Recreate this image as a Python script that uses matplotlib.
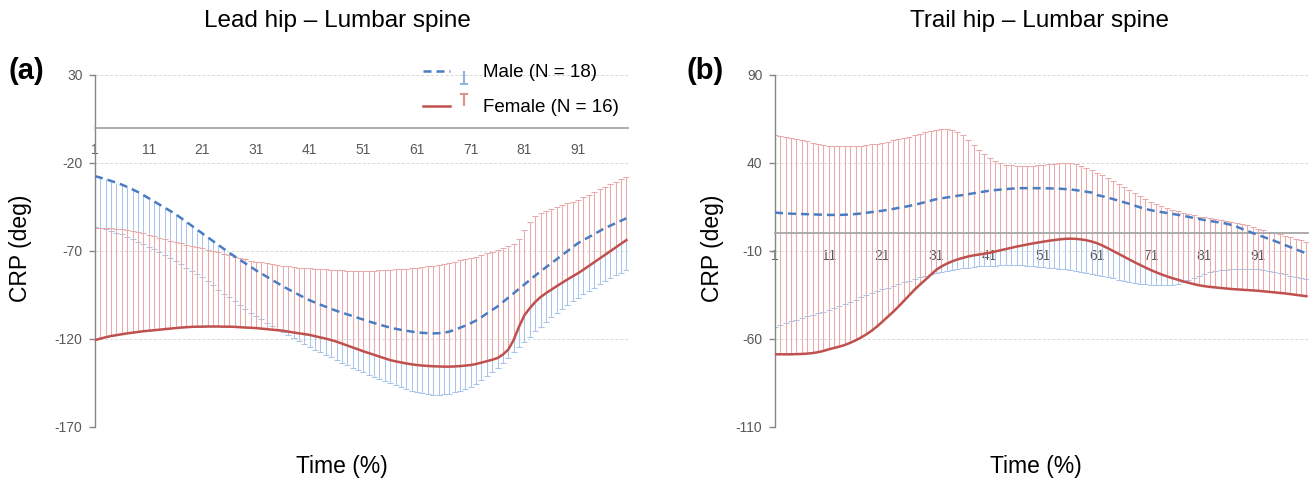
import numpy as np
import matplotlib
matplotlib.use('Agg')
import matplotlib.pyplot as plt
from matplotlib.lines import Line2D
from matplotlib.path import Path
from matplotlib.legend_handler import HandlerTuple

plt.rcParams['font.family'] = ['Liberation Sans', 'DejaVu Sans']
plt.rcParams['axes.unicode_minus'] = False

# normalised time (%), categories 1..100
time_pct = list(range(1, 101))
x_ticks = [1, 11, 21, 31, 41, 51, 61, 71, 81, 91]
x_tick_labels = ['1', '11', '21', '31', '41', '51', '61', '71', '81', '91']

# (a) Lead hip - Lumbar spine
lead_male_mean = [
    -27.5, -28.3, -29.2, -30.2, -31.2, -32.3, -33.6, -35.0, -36.5, -38.2,
    -40.0, -41.8, -43.6, -45.4, -47.2, -49.1, -51.2, -53.4, -55.6, -57.8,
    -60.0, -62.2, -64.4, -66.6, -68.8, -71.0, -73.0, -75.0, -77.0, -79.0,
    -81.0, -82.8, -84.6, -86.4, -88.2, -90.0, -91.7, -93.3, -94.9, -96.5,
    -98.0, -99.3, -100.5, -101.7, -102.9, -104.0, -105.0, -106.0, -107.0, -108.0,
    -109.0, -110.0, -110.9, -111.8, -112.7, -113.5, -114.2, -114.8, -115.3, -115.8,
    -116.2, -116.5, -116.7, -116.8, -116.7, -116.5, -115.8, -114.8, -113.6, -112.4,
    -111.0, -109.5, -107.6, -105.5, -103.5, -101.5, -99.0, -96.5, -94.0, -91.5,
    -89.0, -86.5, -84.0, -81.6, -79.3, -77.0, -74.7, -72.4, -70.1, -67.8,
    -65.5, -63.8, -62.1, -60.4, -58.7, -57.0, -55.6, -54.2, -52.8, -51.4]
# mean - SD (end of the male error bars)
lead_male_low = [
    -56.2, -56.8, -57.6, -58.5, -59.5, -60.6, -61.9, -63.3, -64.7, -66.1,
    -67.5, -69.0, -70.6, -72.3, -74.0, -75.8, -77.6, -79.5, -81.4, -83.3,
    -85.0, -87.3, -89.6, -91.9, -94.2, -96.4, -98.6, -100.8, -102.9, -105.0,
    -107.0, -108.9, -110.8, -112.6, -114.4, -116.2, -117.9, -119.6, -121.2, -122.8,
    -124.4, -126.0, -127.5, -129.0, -130.5, -132.0, -133.4, -134.8, -136.2, -137.6,
    -139.0, -140.3, -141.6, -142.8, -144.0, -145.2, -146.3, -147.4, -148.4, -149.3,
    -150.1, -150.8, -151.4, -151.8, -151.8, -151.5, -151.0, -150.3, -149.4, -148.3,
    -147.0, -145.4, -143.5, -141.3, -138.9, -136.3, -133.5, -130.6, -127.6, -124.6,
    -121.6, -118.6, -115.7, -112.9, -110.2, -107.6, -105.2, -102.9, -100.7, -98.6,
    -96.6, -94.6, -92.7, -90.8, -88.9, -87.1, -85.4, -83.8, -82.3, -80.8]
lead_female_mean = [
    -120.6, -119.8, -119.0, -118.3, -117.8, -117.3, -116.8, -116.4, -116.0, -115.6,
    -115.3, -115.0, -114.7, -114.4, -114.1, -113.8, -113.5, -113.3, -113.1, -113.0,
    -113.0, -112.9, -112.9, -112.9, -113.0, -113.0, -113.1, -113.3, -113.5, -113.6,
    -113.8, -114.1, -114.4, -114.7, -115.0, -115.3, -115.8, -116.3, -116.8, -117.2,
    -117.7, -118.4, -119.1, -119.8, -120.6, -121.5, -122.6, -123.7, -124.8, -125.9,
    -127.0, -128.0, -129.0, -130.0, -131.0, -132.0, -132.7, -133.3, -133.9, -134.4,
    -134.8, -135.1, -135.3, -135.5, -135.6, -135.7, -135.7, -135.6, -135.4, -135.1,
    -134.8, -134.2, -133.4, -132.6, -131.8, -130.8, -128.8, -126.0, -120.5, -113.0,
    -106.5, -102.5, -99.0, -96.2, -94.0, -92.0, -90.0, -88.1, -86.2, -84.4,
    -82.6, -80.6, -78.5, -76.4, -74.3, -72.2, -70.1, -68.0, -65.9, -63.8]
# mean + SD (end of the female error bars)
lead_female_high = [
    -57.0, -57.0, -57.1, -57.2, -57.4, -57.7, -58.1, -58.6, -59.2, -60.0,
    -60.9, -61.7, -62.5, -63.3, -64.1, -64.9, -65.7, -66.4, -67.1, -67.8,
    -68.4, -69.2, -70.0, -70.8, -71.6, -72.4, -73.2, -74.0, -74.8, -75.4,
    -76.0, -76.5, -77.0, -77.5, -78.0, -78.4, -78.8, -79.1, -79.4, -79.6,
    -79.8, -80.0, -80.2, -80.4, -80.6, -80.8, -81.0, -81.1, -81.2, -81.2,
    -81.2, -81.2, -81.1, -81.0, -80.9, -80.7, -80.5, -80.3, -80.0, -79.8,
    -79.5, -79.2, -78.8, -78.3, -77.8, -77.3, -76.7, -76.0, -75.3, -74.7,
    -74.0, -73.2, -72.3, -71.3, -70.3, -69.4, -68.4, -67.4, -66.0, -63.0,
    -58.0, -53.5, -50.0, -48.5, -47.3, -46.3, -45.2, -44.1, -43.0, -42.0,
    -41.0, -39.5, -38.0, -36.5, -35.0, -33.4, -32.0, -30.6, -29.2, -27.8]

# (b) Trail hip - Lumbar spine
trail_male_mean = [
    11.8, 11.6, 11.4, 11.2, 11.1, 11.0, 10.9, 10.8, 10.7, 10.6,
    10.5, 10.5, 10.5, 10.6, 10.8, 11.0, 11.3, 11.7, 12.1, 12.5,
    12.9, 13.4, 13.9, 14.5, 15.0, 15.6, 16.3, 17.0, 17.8, 18.6,
    19.4, 19.9, 20.4, 20.9, 21.4, 21.8, 22.3, 22.8, 23.3, 23.8,
    24.3, 24.6, 24.9, 25.2, 25.4, 25.6, 25.7, 25.7, 25.7, 25.7,
    25.6, 25.6, 25.5, 25.4, 25.2, 25.0, 24.6, 24.2, 23.7, 23.2,
    21.8, 21.1, 20.3, 19.5, 18.6, 17.7, 16.8, 15.8, 14.8, 13.9,
    13.2, 12.6, 12.1, 11.6, 11.1, 10.6, 10.0, 9.4, 8.8, 8.2,
    7.6, 7.1, 6.6, 6.1, 5.6, 4.8, 3.8, 2.6, 1.4, 0.2,
    -0.9, -2.0, -3.1, -4.2, -5.4, -6.6, -7.8, -9.0, -10.2, -11.3]
trail_male_low = [
    -53.0, -52.0, -51.0, -50.0, -49.1, -48.2, -47.2, -46.3, -45.4, -44.5,
    -43.5, -42.4, -41.2, -40.0, -38.8, -37.6, -36.4, -35.2, -34.0, -32.8,
    -31.8, -30.8, -29.8, -28.8, -27.8, -26.8, -25.8, -24.9, -24.0, -23.2,
    -22.4, -21.8, -21.2, -20.7, -20.2, -19.8, -19.4, -19.1, -18.8, -18.6,
    -18.4, -18.3, -18.2, -18.1, -18.1, -18.1, -18.2, -18.4, -18.6, -18.9,
    -19.2, -19.5, -19.8, -20.1, -20.5, -20.9, -21.4, -21.9, -22.4, -22.9,
    -23.5, -24.1, -24.8, -25.5, -26.2, -26.9, -27.5, -28.1, -28.6, -29.0,
    -29.3, -29.5, -29.6, -29.6, -29.3, -28.6, -27.6, -26.4, -25.2, -24.0,
    -23.0, -22.1, -21.4, -20.9, -20.6, -20.4, -20.3, -20.2, -20.2, -20.3,
    -20.5, -20.9, -21.4, -22.0, -22.6, -23.3, -24.0, -24.7, -25.4, -26.0]
trail_female_mean = [
    -68.7, -68.7, -68.7, -68.7, -68.6, -68.5, -68.3, -68.0, -67.5, -66.8,
    -65.9, -65.1, -64.3, -63.4, -62.2, -60.8, -59.2, -57.4, -55.3, -52.9,
    -50.2, -47.4, -44.6, -41.6, -38.4, -35.2, -32.0, -29.1, -26.4, -23.6,
    -20.8, -18.8, -17.2, -15.9, -14.8, -13.9, -13.1, -12.5, -12.0, -11.5,
    -11.0, -10.3, -9.6, -8.9, -8.2, -7.5, -6.9, -6.3, -5.7, -5.2,
    -4.7, -4.2, -3.8, -3.4, -3.1, -3.0, -3.1, -3.4, -3.9, -4.6,
    -5.6, -6.9, -8.4, -10.0, -11.6, -13.2, -14.8, -16.4, -17.9, -19.4,
    -20.8, -22.1, -23.3, -24.4, -25.4, -26.3, -27.2, -28.0, -28.8, -29.5,
    -30.0, -30.4, -30.7, -31.0, -31.3, -31.6, -31.8, -32.0, -32.2, -32.4,
    -32.6, -32.9, -33.2, -33.5, -33.8, -34.1, -34.5, -34.9, -35.3, -35.7]
trail_female_high = [
    55.9, 55.4, 54.8, 54.1, 53.5, 53.0, 52.3, 51.5, 50.7, 50.1,
    49.7, 49.5, 49.4, 49.4, 49.5, 49.7, 49.9, 50.2, 50.6, 51.0,
    51.5, 52.1, 52.8, 53.5, 54.2, 55.0, 55.8, 56.6, 57.4, 58.1,
    58.8, 59.1, 59.2, 58.9, 57.8, 55.9, 53.3, 50.3, 47.4, 44.9,
    42.7, 41.2, 40.0, 39.1, 38.6, 38.3, 38.2, 38.3, 38.5, 38.7,
    38.9, 39.2, 39.5, 39.8, 39.9, 39.8, 39.3, 38.4, 37.3, 35.9,
    34.4, 32.9, 31.4, 29.8, 28.1, 26.3, 24.5, 22.7, 21.0, 19.5,
    18.1, 16.8, 15.6, 14.5, 13.5, 12.6, 11.7, 10.9, 10.2, 9.6,
    9.1, 8.6, 8.1, 7.6, 7.1, 6.6, 6.0, 5.3, 4.5, 3.6,
    2.7, 1.8, 1.0, 0.2, -0.6, -1.4, -2.2, -3.0, -3.9, -4.7]

BLUE = '#4a7cc4'
RED = '#c0504d'
BLUE_BAR = '#a9c6ea'
RED_BAR = '#eca9a9'
GRAY = '#595959'
DASH = (0, (3.2, 2.0))

W, H = 1312, 482
fig = plt.figure(figsize=(W / 100, H / 100), dpi=100)

ax_a = fig.add_axes([95 / W, 1 - 427 / H, 533 / W, 352 / H])
ax_b = fig.add_axes([775 / W, 1 - 427 / H, 533 / W, 352 / H])


def draw_panel(ax, male_mean, male_low, female_mean, female_high, ylim):
    x = np.array(time_pct)
    # male SD bars go down, female SD bars go up
    ax.vlines(x, male_low, male_mean, color=BLUE_BAR, lw=0.75, zorder=2)
    ax.plot(x, male_low, ls='none', marker='_', ms=4, mew=0.75, color=BLUE_BAR, zorder=2)
    ax.vlines(x, female_mean, female_high, color=RED_BAR, lw=0.75, zorder=2.1)
    ax.plot(x, female_high, ls='none', marker='_', ms=4, mew=0.75, color=RED_BAR, zorder=2.1)
    ax.plot(x, male_mean, color=BLUE, lw=1.8, ls=DASH, zorder=3)
    ax.plot(x, female_mean, color=RED, lw=1.8, zorder=3.1)

    ax.set_xlim(1, 100.3)
    ax.set_ylim(*ylim)
    ax.set_yticks(np.arange(ylim[0], ylim[1] + 1, 50))
    ax.set_xticks(x_ticks)
    ax.set_xticklabels(x_tick_labels)

    ax.yaxis.grid(True, color='#d9d9d9', ls=(0, (3, 2)), lw=0.7)
    ax.set_axisbelow(True)

    for s in ['top', 'right']:
        ax.spines[s].set_visible(False)
    ax.spines['left'].set_color('#868686')
    ax.spines['left'].set_linewidth(1.0)
    ax.spines['bottom'].set_position(('data', 0))
    ax.spines['bottom'].set_color('#a6a6a6')
    ax.spines['bottom'].set_linewidth(1.3)

    ax.tick_params(axis='x', length=0, pad=11, labelsize=10, labelcolor=GRAY)
    ax.tick_params(axis='y', direction='out', length=4, width=1, color='#868686',
                   pad=5, labelsize=10, labelcolor=GRAY)


draw_panel(ax_a, lead_male_mean, lead_male_low, lead_female_mean, lead_female_high, (-170, 30))
draw_panel(ax_b, trail_male_mean, trail_male_low, trail_female_mean, trail_female_high, (-110, 90))

# titles, axis labels, panel letters
fig.text(337 / W, 1 - 21 / H, 'Lead hip – Lumbar spine', ha='center', va='center', fontsize=17.5)
fig.text(1040 / W, 1 - 21 / H, 'Trail hip – Lumbar spine', ha='center', va='center', fontsize=17.5)
fig.text(342 / W, 1 - 466 / H, 'Time (%)', ha='center', va='center', fontsize=16.5)
fig.text(1036 / W, 1 - 466 / H, 'Time (%)', ha='center', va='center', fontsize=16.5)
fig.text(21 / W, 1 - 248 / H, 'CRP (deg)', ha='center', va='center', rotation=90, fontsize=16.5)
fig.text(713 / W, 1 - 248 / H, 'CRP (deg)', ha='center', va='center', rotation=90, fontsize=16.5)
fig.text(8 / W, 1 - 71 / H, '(a)', ha='left', va='center', fontsize=21, fontweight='bold')
fig.text(686 / W, 1 - 71 / H, '(b)', ha='left', va='center', fontsize=21, fontweight='bold')

# legend: line with a one-sided error bar
down_bar = Path([(0, 0), (0, -1), (-0.35, -1), (0.35, -1)],
                [Path.MOVETO, Path.LINETO, Path.MOVETO, Path.LINETO])
up_bar = Path([(0, 0), (0, 1), (-0.35, 1), (0.35, 1)],
              [Path.MOVETO, Path.LINETO, Path.MOVETO, Path.LINETO])
male_line = Line2D([], [], color=BLUE, lw=1.8, ls=DASH)
male_bar = Line2D([], [], ls='none', marker=down_bar, ms=18, mew=1.5, mec='#8fb3e0', mfc='none')
female_line = Line2D([], [], color=RED, lw=1.8)
female_bar = Line2D([], [], ls='none', marker=up_bar, ms=18, mew=1.5, mec='#e08f8f', mfc='none')

ax_a.legend([(male_line, male_bar), (female_line, female_bar)],
            ['Male (N = 18)', 'Female (N = 16)'],
            handler_map={tuple: HandlerTuple(ndivide=None)},
            loc='upper left', bbox_to_anchor=(423 / W, 1 - 64 / H),
            bbox_transform=fig.transFigure, frameon=False, fontsize=13.5,
            handlelength=2.9, handletextpad=0.3, labelspacing=0.95,
            borderpad=0, borderaxespad=0)

fig.savefig('out.png', dpi=100)
